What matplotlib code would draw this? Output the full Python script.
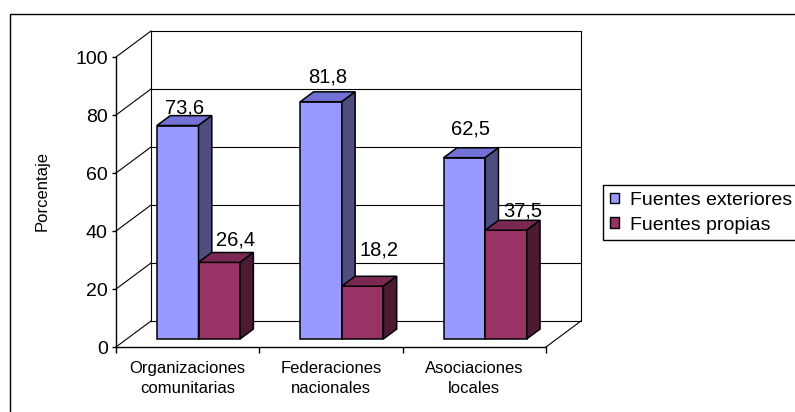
import numpy as np
import matplotlib
matplotlib.use("Agg")
from matplotlib import pyplot as plt
from matplotlib.patches import Polygon, Patch, Rectangle

plt.rcParams['font.family'] = ['Liberation Sans', 'DejaVu Sans']

### data
categories = ["Organizaciones\ncomunitarias", "Federaciones\nnacionales", "Asociaciones\nlocales"]
series_names = ["Fuentes exteriores", "Fuentes propias"]
exteriores = [73.6, 81.8, 62.5]
propias = [26.4, 18.2, 37.5]
yticks = [0, 20, 40, 60, 80, 100]

### 3d look (category units on x, percent on y)
W, H = 795, 412
px_cat = 143.33          # pixels per category
px_val = 2.9             # pixels per percent
x0_px, y0_px = 116, 347  # front origin of the chart
DX = 35 / px_cat         # depth offset of the back wall
DY = 26 / px_val
f0, fd = 0.31, 0.38      # bar front depth and bar thickness (fraction of depth)
bw = 0.29                # bar width

colors = {
    'blue': ('#9999FF', '#7272D6', '#4D4D80'),
    'red': ('#993366', '#7A2952', '#4D1A33'),
}
label_dx = [0.045, 0.115]
label_lift = [[0.9, 3.1, 4.5], [2.4, 7.2, 1.4]]

fig = plt.figure(figsize=(W / 100, H / 100), dpi=100)
ax = fig.add_axes([0, 0, 1, 1])
ax.set_xlim(-x0_px / px_cat, (W - x0_px) / px_cat)
ax.set_ylim((y0_px - H) / px_val, y0_px / px_val)
ax.patch.set_visible(False)

# outer chart frame
fig.patches.append(Rectangle((10 / W, -0.1), 1.2, (H - 14) / H + 0.1,
                             transform=fig.transFigure, fill=False,
                             edgecolor='black', linewidth=1.0))

# walls and gridlines
lc = dict(color='black', linewidth=0.8, zorder=1)
ncat = len(categories)
for v in yticks:
    ax.plot([0, DX], [v, v + DY], **lc)
    ax.plot([DX, ncat + DX], [v + DY, v + DY], **lc)
ax.plot([DX, DX], [DY, 100 + DY], **lc)
ax.plot([ncat + DX, ncat + DX], [DY, 100 + DY], **lc)
ax.plot([ncat, ncat + DX], [0, DY], **lc)


def draw_bar(xl, val, cols):
    ox, oy = f0 * DX, f0 * DY
    tx, ty = fd * DX, fd * DY
    xa, xb = xl + ox, xl + bw + ox
    yb, yt = oy, oy + val
    ek = dict(edgecolor='black', linewidth=1.1, joinstyle='miter', zorder=3)
    ax.add_patch(Polygon([(xa, yb), (xb, yb), (xb, yt), (xa, yt)], facecolor=cols[0], **ek))
    ax.add_patch(Polygon([(xa, yt), (xb, yt), (xb + tx, yt + ty), (xa + tx, yt + ty)], facecolor=cols[1], **ek))
    ax.add_patch(Polygon([(xb, yb), (xb + tx, yb + ty), (xb + tx, yt + ty), (xb, yt)], facecolor=cols[2], **ek))


for i in range(ncat):
    c = i + 0.5
    for s, (vals, key) in enumerate([(exteriores, 'blue'), (propias, 'red')]):
        xl = c - bw + s * bw
        draw_bar(xl, vals[i], colors[key])
        lx = xl + bw / 2 + f0 * DX + label_dx[s]
        ly = vals[i] + (f0 + fd) * DY + label_lift[s][i]
        ax.text(lx, ly, f"{vals[i]:.1f}".replace('.', ','), ha='center',
                va='baseline', fontsize=14.5, zorder=4)

# axes spines as the front axes
for side in ['top', 'right']:
    ax.spines[side].set_visible(False)
ax.spines['left'].set_position(('data', 0))
ax.spines['left'].set_bounds(0, 100)
ax.spines['bottom'].set_position(('data', 0))
ax.spines['bottom'].set_bounds(0, ncat)
for side in ['left', 'bottom']:
    ax.spines[side].set_linewidth(1.0)
    ax.spines[side].set_zorder(2)

ax.set_yticks(yticks)
ax.set_yticklabels([str(t) for t in yticks])
ax.tick_params(axis='y', direction='out', length=3, width=1, labelsize=14, pad=3)
ax.set_xticks(np.arange(ncat + 1))
ax.set_xticklabels([])
ax.set_xticks(np.arange(ncat) + 0.5, minor=True)
ax.set_xticklabels(categories, minor=True)
ax.tick_params(axis='x', which='major', direction='out', length=4, width=1)
ax.tick_params(axis='x', which='minor', length=0, labelsize=12, pad=10)
for lab in ax.get_xticklabels(minor=True):
    lab.set_linespacing(1.45)

ax.set_ylabel("Porcentaje", fontsize=12)
ax.yaxis.set_label_coords(50 / W, 1 - 191 / H)

handles = [Patch(facecolor=colors['blue'][0], edgecolor='black', linewidth=1),
           Patch(facecolor=colors['red'][0], edgecolor='black', linewidth=1)]
leg = fig.legend(handles, series_names, loc='upper left',
                 bbox_to_anchor=(603 / W, 1 - 185 / H), fontsize=14,
                 handlelength=0.47, handleheight=0.47, handletextpad=0.55,
                 borderpad=0.35, labelspacing=0.4, borderaxespad=0,
                 fancybox=False, framealpha=1, edgecolor='black')
leg.get_frame().set_linewidth(1.0)

plt.savefig('out.png', dpi=100)
